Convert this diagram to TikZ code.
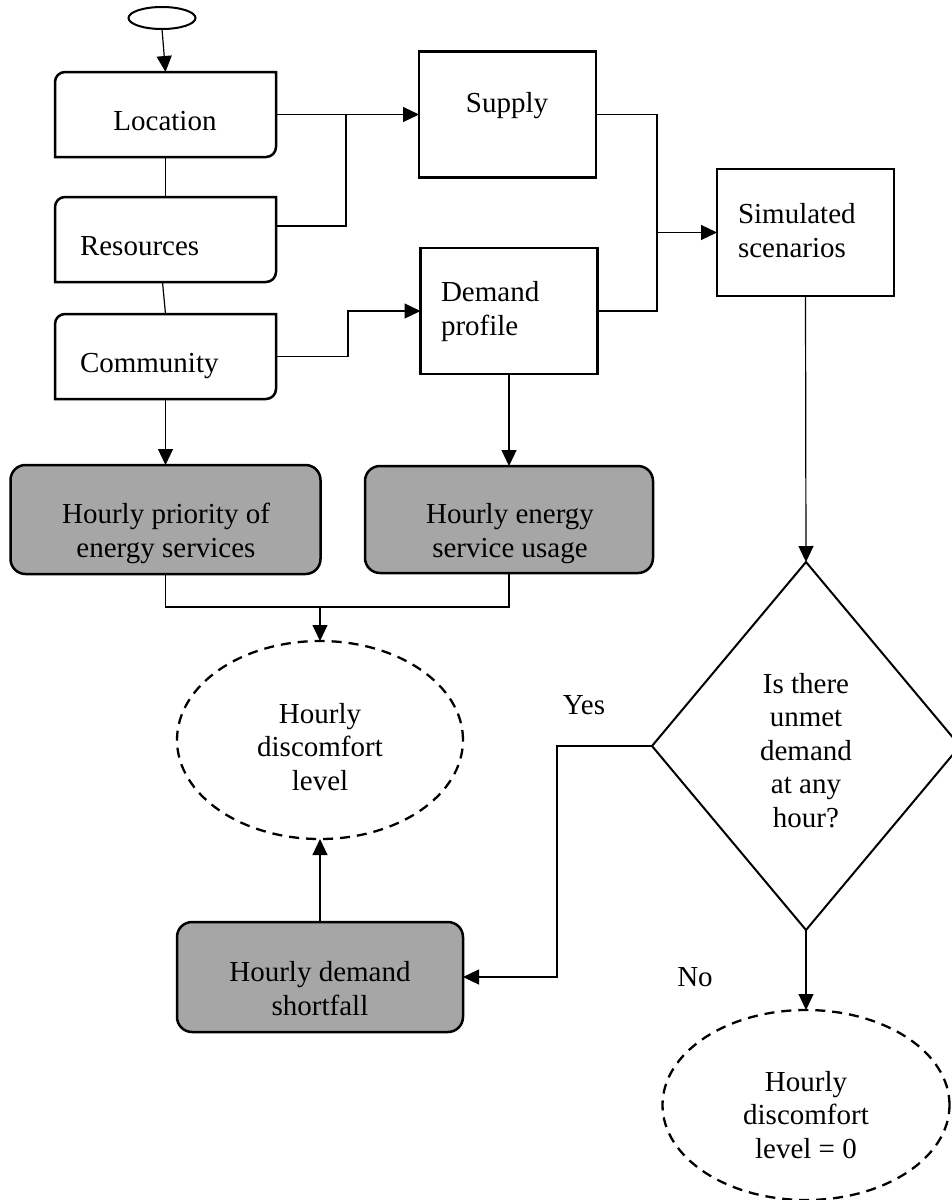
\documentclass[tikz,border=0pt]{standalone}
\usepackage{fontspec}
\setmainfont{Liberation Serif}
\usetikzlibrary{arrows.meta,shapes.geometric}
\definecolor{shade}{RGB}{166,166,166}

% box with rounded top-left and bottom-right corners only
\newcommand{\cornerframe}[1]{%
  \draw[frame] (#1.south west) -- ([yshift=-10pt]#1.north west)
    arc[start angle=180,end angle=90,radius=10pt] -- (#1.north east)
    -- ([yshift=10pt]#1.south east)
    arc[start angle=0,end angle=-90,radius=10pt] -- cycle;}

\begin{document}
\begin{tikzpicture}[x=1pt,y=1pt,
  every node/.style={font=\fontsize{29pt}{33.5pt}\selectfont, inner sep=0pt, outer sep=0pt},
  frame/.style={draw, line width=2.5pt},
  plainbox/.style={frame, rectangle, minimum width=177pt, minimum height=126pt},
  cornerbox/.style={rectangle, minimum width=221pt, minimum height=85pt},
  greybox/.style={frame, fill=shade, rounded corners=15pt},
  dashedell/.style={ellipse, draw, line width=2.3pt, dash pattern=on 10pt off 7pt},
  txt/.style={anchor=base, align=center},
  ltxt/.style={anchor=base west, align=left},
  link/.style={line width=1.2pt},
  arrow/.style={link, -{Triangle[length=16pt,width=15pt]}},
]
\useasboundingbox (0,0) rectangle (952,-1200);

% shapes
\node[ellipse, draw, line width=2pt, minimum width=67pt, minimum height=22pt] (start) at (162,-18) {};
\node[cornerbox] (loc) at (165.5,-114.5) {};
\node[cornerbox] (res) at (165.5,-239.5) {};
\node[cornerbox] (com) at (165.5,-356.5) {};
\cornerframe{loc}
\cornerframe{res}
\cornerframe{com}
\node[plainbox] (sup) at (507.5,-114.5) {};
\node[plainbox] (dem) at (509,-311) {};
\node[plainbox, minimum height=127pt] (sim) at (805.5,-232.5) {};
\node[greybox, minimum width=310pt, minimum height=109pt] (prio) at (165.5,-519.5) {};
\node[greybox, minimum width=288pt, minimum height=107pt] (use) at (509,-519.5) {};
\node[dashedell, minimum width=286pt, minimum height=198pt] (disc) at (320,-740) {};
\node[greybox, minimum width=286pt, minimum height=110pt] (short) at (320,-977) {};
\node[diamond, draw, line width=2pt, minimum width=308pt, minimum height=368pt, aspect=0.837] (dec) at (806,-746) {};
\node[dashedell, minimum width=287pt, minimum height=190pt] (zero) at (806,-1105) {};

% texts (multi-line nodes are anchored on the baseline of their last line)
\node[txt] (loc-t) at (165,-130) {Location};
\node[ltxt] (res-t) at (80,-255) {Resources};
\node[ltxt] (com-t) at (80,-372) {Community};
\node[txt] (sup-t) at (507,-112) {Supply};
\node[ltxt] (dem-t) at (441,-335) {Demand\\profile};
\node[ltxt] (sim-t) at (738,-257) {Simulated\\scenarios};
\node[txt] (prio-t) at (166,-557) {Hourly priority of\\energy services};
\node[txt] (use-t) at (510,-557) {Hourly energy\\service usage};
\node[txt] (disc-t) at (320,-790) {Hourly\\discomfort\\level};
\node[txt] (dec-t) at (806,-827) {Is there\\unmet\\demand\\at any\\hour?};
\node[txt] (short-t) at (320,-1015) {Hourly demand\\shortfall};
\node[txt] (zero-t) at (806,-1158) {Hourly\\discomfort\\level = 0};
\node[txt] (yes) at (584,-714) {Yes};
\node[txt] (no) at (695,-986) {No};

% junction points
\coordinate (j1) at (346,-114.5);
\coordinate (j2) at (657,-232.5);
\coordinate (j3) at (320,-607);
\coordinate (yesbend) at (557,-746);

% connectors
\draw[arrow] (start.south) -- (loc.north);
\draw[link] (loc.south) -- (res.north);
\draw[link] ([xshift=-3pt]res.south) -- (com.north);
\draw[arrow] (loc.east) -- (sup.west);
\draw[link] ([yshift=13.5pt]res.east) -| (j1);
\draw[arrow] (com.east) -- ++(72,0) |- (dem.west);
\draw[link] (sup.east) -| (j2);
\draw[link] (dem.east) -| (j2);
\draw[arrow] (j2) -- (sim.west);
\draw[arrow] (sim.south) -- (dec.north);
\draw[arrow] (com.south) -- (prio.north);
\draw[arrow] (dem.south) -- (use.north);
\draw[link] (prio.south) |- (j3);
\draw[link] (use.south) |- (j3);
\draw[arrow] (j3) -- (disc.north);
\draw[arrow] (short.north) -- (disc.south);
\draw[arrow] (dec.west) -- (yesbend) |- (short.east);
\draw[arrow] (dec.south) -- (zero.north);
\end{tikzpicture}
\end{document}
